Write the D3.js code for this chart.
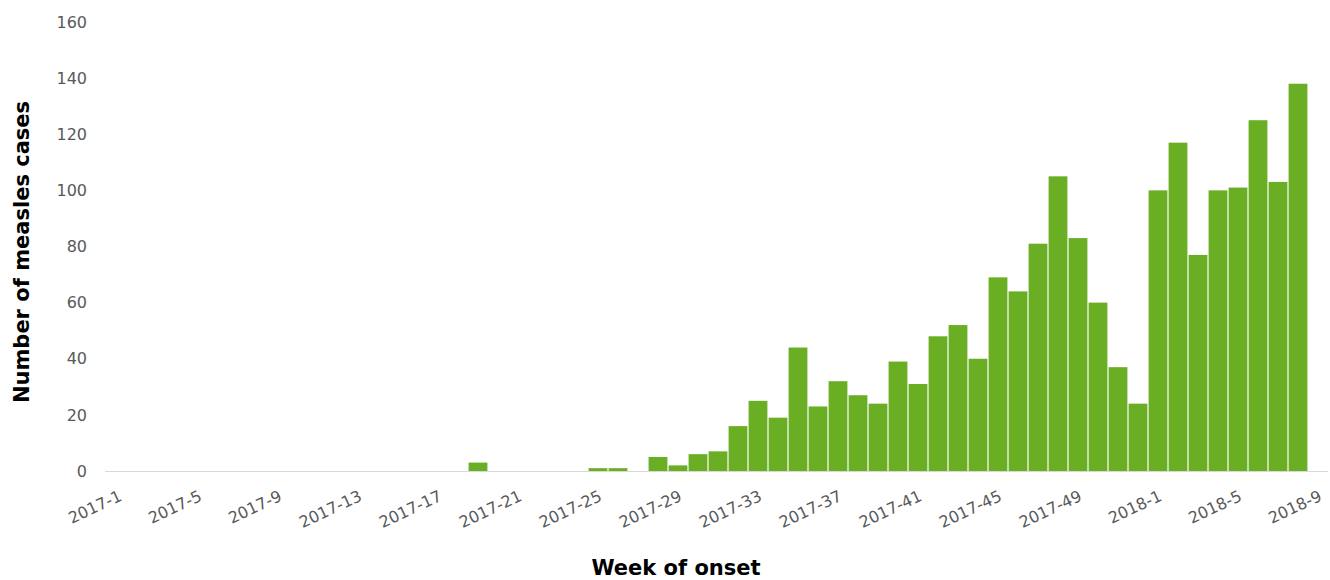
<!DOCTYPE html>
<html>
<head>
<meta charset="utf-8">
<script src="https://cdn.jsdelivr.net/npm/d3@7"></script>
<style>
  html, body { margin: 0; padding: 0; background: #ffffff; }
  svg { display: block; }
</style>
</head>
<body>
<svg id="chart" width="1330" height="580"></svg>
<script>
// Week of onset (ISO year-week)
const weeks = [
  "2017-1","2017-2","2017-3","2017-4","2017-5","2017-6","2017-7","2017-8","2017-9","2017-10",
  "2017-11","2017-12","2017-13","2017-14","2017-15","2017-16","2017-17","2017-18","2017-19","2017-20",
  "2017-21","2017-22","2017-23","2017-24","2017-25","2017-26","2017-27","2017-28","2017-29","2017-30",
  "2017-31","2017-32","2017-33","2017-34","2017-35","2017-36","2017-37","2017-38","2017-39","2017-40",
  "2017-41","2017-42","2017-43","2017-44","2017-45","2017-46","2017-47","2017-48","2017-49","2017-50",
  "2017-51","2017-52","2018-1","2018-2","2018-3","2018-4","2018-5","2018-6","2018-7","2018-8",
  "2018-9"
];

// Number of measles cases per week
const cases = [
  0, 0, 0, 0, 0, 0, 0, 0, 0, 0,
  0, 0, 0, 0, 0, 0, 0, 0, 3, 0,
  0, 0, 0, 0, 1, 1, 0, 5, 2, 6,
  7, 16, 25, 19, 44, 23, 32, 27, 24, 39,
  31, 48, 52, 40, 69, 64, 81, 105, 83, 60,
  37, 24, 100, 117, 77, 100, 101, 125, 103, 138,
  0
];

// Labelled weeks on the category axis
const weekTicks = [
  "2017-1","2017-5","2017-9","2017-13","2017-17","2017-21","2017-25","2017-29",
  "2017-33","2017-37","2017-41","2017-45","2017-49","2018-1","2018-5","2018-9"
];

const yTicks = [0, 20, 40, 60, 80, 100, 120, 140, 160];

const svg = d3.select("#chart");
const plot = { left: 108, right: 1328, top: 22, bottom: 471 };

const x = d3.scaleBand()
  .domain(weeks)
  .range([plot.left, plot.right])
  .paddingInner(0.06)
  .paddingOuter(0.03);

const y = d3.scaleLinear()
  .domain([0, 160])
  .range([plot.bottom, plot.top]);

// Bars
svg.append("g")
  .selectAll("rect")
  .data(weeks.map((w, i) => ({ week: w, value: cases[i] })))
  .join("rect")
  .attr("x", d => x(d.week))
  .attr("width", x.bandwidth())
  .attr("y", d => y(d.value))
  .attr("height", d => y(0) - y(d.value))
  .attr("fill", "#6aae24");

// Category axis line
svg.append("line")
  .attr("x1", plot.left - 3)
  .attr("x2", plot.right)
  .attr("y1", y(0) + 0.5)
  .attr("y2", y(0) + 0.5)
  .attr("stroke", "#d9d9d9")
  .attr("stroke-width", 1.2);

// Value axis labels
const yAxis = d3.axisLeft(y).tickValues(yTicks).tickSize(0).tickPadding(0);
const yg = svg.append("g")
  .attr("transform", `translate(${plot.left - 21},0)`)
  .call(yAxis);
yg.select(".domain").remove();
yg.selectAll("text")
  .attr("font-family", "'DejaVu Sans', Verdana, sans-serif")
  .attr("font-size", 16)
  .attr("fill", "#595959");

// Week labels, rotated
const xAxis = d3.axisBottom(x).tickValues(weekTicks).tickSize(0).tickPadding(0);
const xg = svg.append("g")
  .attr("transform", `translate(0,${plot.bottom})`)
  .call(xAxis);
xg.select(".domain").remove();
xg.selectAll("text")
  .attr("font-family", "'DejaVu Sans', Verdana, sans-serif")
  .attr("font-size", 16)
  .attr("fill", "#595959")
  .attr("text-anchor", "end")
  .attr("dy", null)
  .attr("y", null)
  .attr("transform", "translate(5,29) rotate(-25)");

// Axis titles
svg.append("text")
  .attr("x", 676)
  .attr("y", 575)
  .attr("text-anchor", "middle")
  .attr("font-family", "'DejaVu Sans', Tahoma, sans-serif")
  .attr("font-weight", "bold")
  .attr("font-size", 21)
  .attr("fill", "#000000")
  .text("Week of onset");

svg.append("text")
  .attr("transform", "translate(29,252) rotate(-90)")
  .attr("text-anchor", "middle")
  .attr("font-family", "'DejaVu Sans', Tahoma, sans-serif")
  .attr("font-weight", "bold")
  .attr("font-size", 21)
  .attr("fill", "#000000")
  .text("Number of measles cases");
</script>
</body>
</html>
